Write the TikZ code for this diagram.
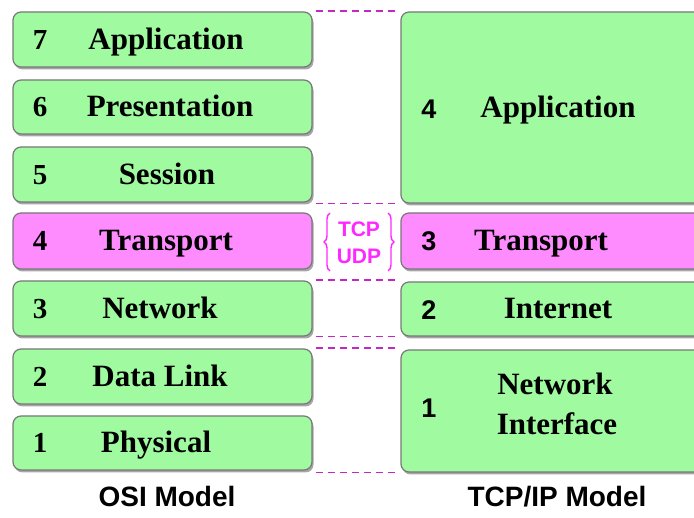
\documentclass[tikz,border=0pt]{standalone}
\usepackage{fontspec}
\setmainfont{Liberation Serif}
\setsansfont{Liberation Sans}
\usetikzlibrary{shadows,decorations.pathreplacing}
\definecolor{boxgreen}{RGB}{160,250,160}
\definecolor{boxpink}{RGB}{255,140,255}
\definecolor{boxedge}{RGB}{120,120,120}
\definecolor{dashcol}{RGB}{195,40,195}
\definecolor{tcpcol}{RGB}{255,40,255}
\begin{document}
\begin{tikzpicture}[x=1pt,y=-1pt,
  layerbox/.style={draw=boxedge, line width=1.2pt, rounded corners=8pt, inner sep=0pt,
    drop shadow={shadow xshift=1.5pt, shadow yshift=-2.5pt, opacity=0.35, fill=black}},
  leftbox/.style={layerbox, minimum width=299pt},
  rightbox/.style={layerbox, minimum width=310pt},
  greenbox/.style={fill=boxgreen},
  pinkbox/.style={fill=boxpink},
  lefttxt/.style={anchor=base, inner sep=0pt, font=\fontsize{31}{36}\selectfont\bfseries},
  leftnum/.style={anchor=base, inner sep=0pt, font=\fontsize{29}{34}\selectfont\bfseries},
  righttxt/.style={anchor=base, inner sep=0pt, font=\fontsize{31}{36}\selectfont\bfseries},
  rightnum/.style={anchor=base, inner sep=0pt, font=\fontsize{27}{32}\selectfont\sffamily\bfseries},
  tcptxt/.style={anchor=base, inner sep=0pt, text=tcpcol, font=\fontsize{21}{24}\selectfont\sffamily\bfseries},
  bracecurl/.style={draw=tcpcol, line width=1.4pt, decorate, decoration={brace, amplitude=6pt}},
  dashline/.style={draw=dashcol, line width=1.8pt, dash pattern=on 7pt off 5pt, shorten <=3pt, shorten >=3pt},
  modeltxt/.style={anchor=base, inner sep=0pt, font=\fontsize{28}{32}\selectfont\sffamily\bfseries}]
\clip (0,0) rectangle (694,518);
\fill[white] (0,0) rectangle (694,518);

% OSI boxes
\node[leftbox, greenbox, minimum height=55pt] (o7) at (162.5,39.5) {};
\node[leftbox, greenbox, minimum height=54pt] (o6) at (162.5,107) {};
\node[leftbox, greenbox, minimum height=55pt] (o5) at (162.5,174.5) {};
\node[leftbox, pinkbox,  minimum height=56pt] (o4) at (162.5,241) {};
\node[leftbox, greenbox, minimum height=55pt] (o3) at (162.5,308.5) {};
\node[leftbox, greenbox, minimum height=55pt] (o2) at (162.5,376.5) {};
\node[leftbox, greenbox, minimum height=54pt] (o1) at (162.5,443) {};

% TCP/IP boxes
\node[rightbox, greenbox, minimum height=191pt] (t4) at (556,107.5) {};
\node[rightbox, pinkbox,  minimum height=56pt] (t3) at (556,241) {};
\node[rightbox, greenbox, minimum height=54pt] (t2) at (556,309) {};
\node[rightbox, greenbox, minimum height=122pt] (t1) at (556,411) {};

% OSI texts
\node[leftnum] (n7) at (40,49.5) {7};
\node[lefttxt] (l7) at (166,49.5) {Application};
\node[leftnum] (n6) at (40,117) {6};
\node[lefttxt] (l6) at (170,117) {Presentation};
\node[leftnum] (n5) at (40,184.5) {5};
\node[lefttxt] (l5) at (167,184.5) {Session};
\node[leftnum] (n4) at (40,251) {4};
\node[lefttxt] (l4) at (166,251) {Transport};
\node[leftnum] (n3) at (40,318.5) {3};
\node[lefttxt] (l3) at (160,318.5) {Network};
\node[leftnum] (n2) at (40,386.5) {2};
\node[lefttxt] (l2) at (160,386.5) {Data Link};
\node[leftnum] (n1) at (40,453) {1};
\node[lefttxt] (l1) at (156,453) {Physical};

% TCP/IP texts
\node[rightnum] (m4) at (429,119) {4};
\node[righttxt] (r4) at (558,118) {Application};
\node[rightnum] (m3) at (429,251) {3};
\node[righttxt] (r3) at (541,251) {Transport};
\node[rightnum] (m2) at (429,320) {2};
\node[righttxt] (r2) at (558,319) {Internet};
\node[rightnum] (m1) at (429,418) {1};
\node[righttxt] (r1a) at (555,395) {Network};
\node[righttxt] (r1b) at (557,435) {Interface};

% dashed connectors
\draw[dashline] (o7.north east) -- (t4.north west);
\draw[dashline] (o5.east |- t4.south) -- (t4.south west);
\draw[dashline] (o3.north east) -- (o3.north east -| t2.west);
\draw[dashline] (o3.south east) -- (o3.south east -| t2.west);
\draw[dashline] (o2.north east) -- (o2.north east -| t1.west);
\draw[dashline] (o1.east |- t1.south) -- (t1.south west);

% TCP / UDP
\node[tcptxt] (tcp) at (359,237) {TCP};
\node[tcptxt] (udp) at (359,264) {UDP};
\coordinate (lb1) at (330,271);
\coordinate (lb2) at (330,213);
\coordinate (rb1) at (388,213);
\coordinate (rb2) at (388,271);
\draw[bracecurl] (lb1) -- (lb2);
\draw[bracecurl] (rb1) -- (rb2);

% captions
\node[modeltxt] (osi) at (167,507) {OSI Model};
\node[modeltxt] (tcpip) at (557,507) {TCP/IP Model};
\end{tikzpicture}
\end{document}
